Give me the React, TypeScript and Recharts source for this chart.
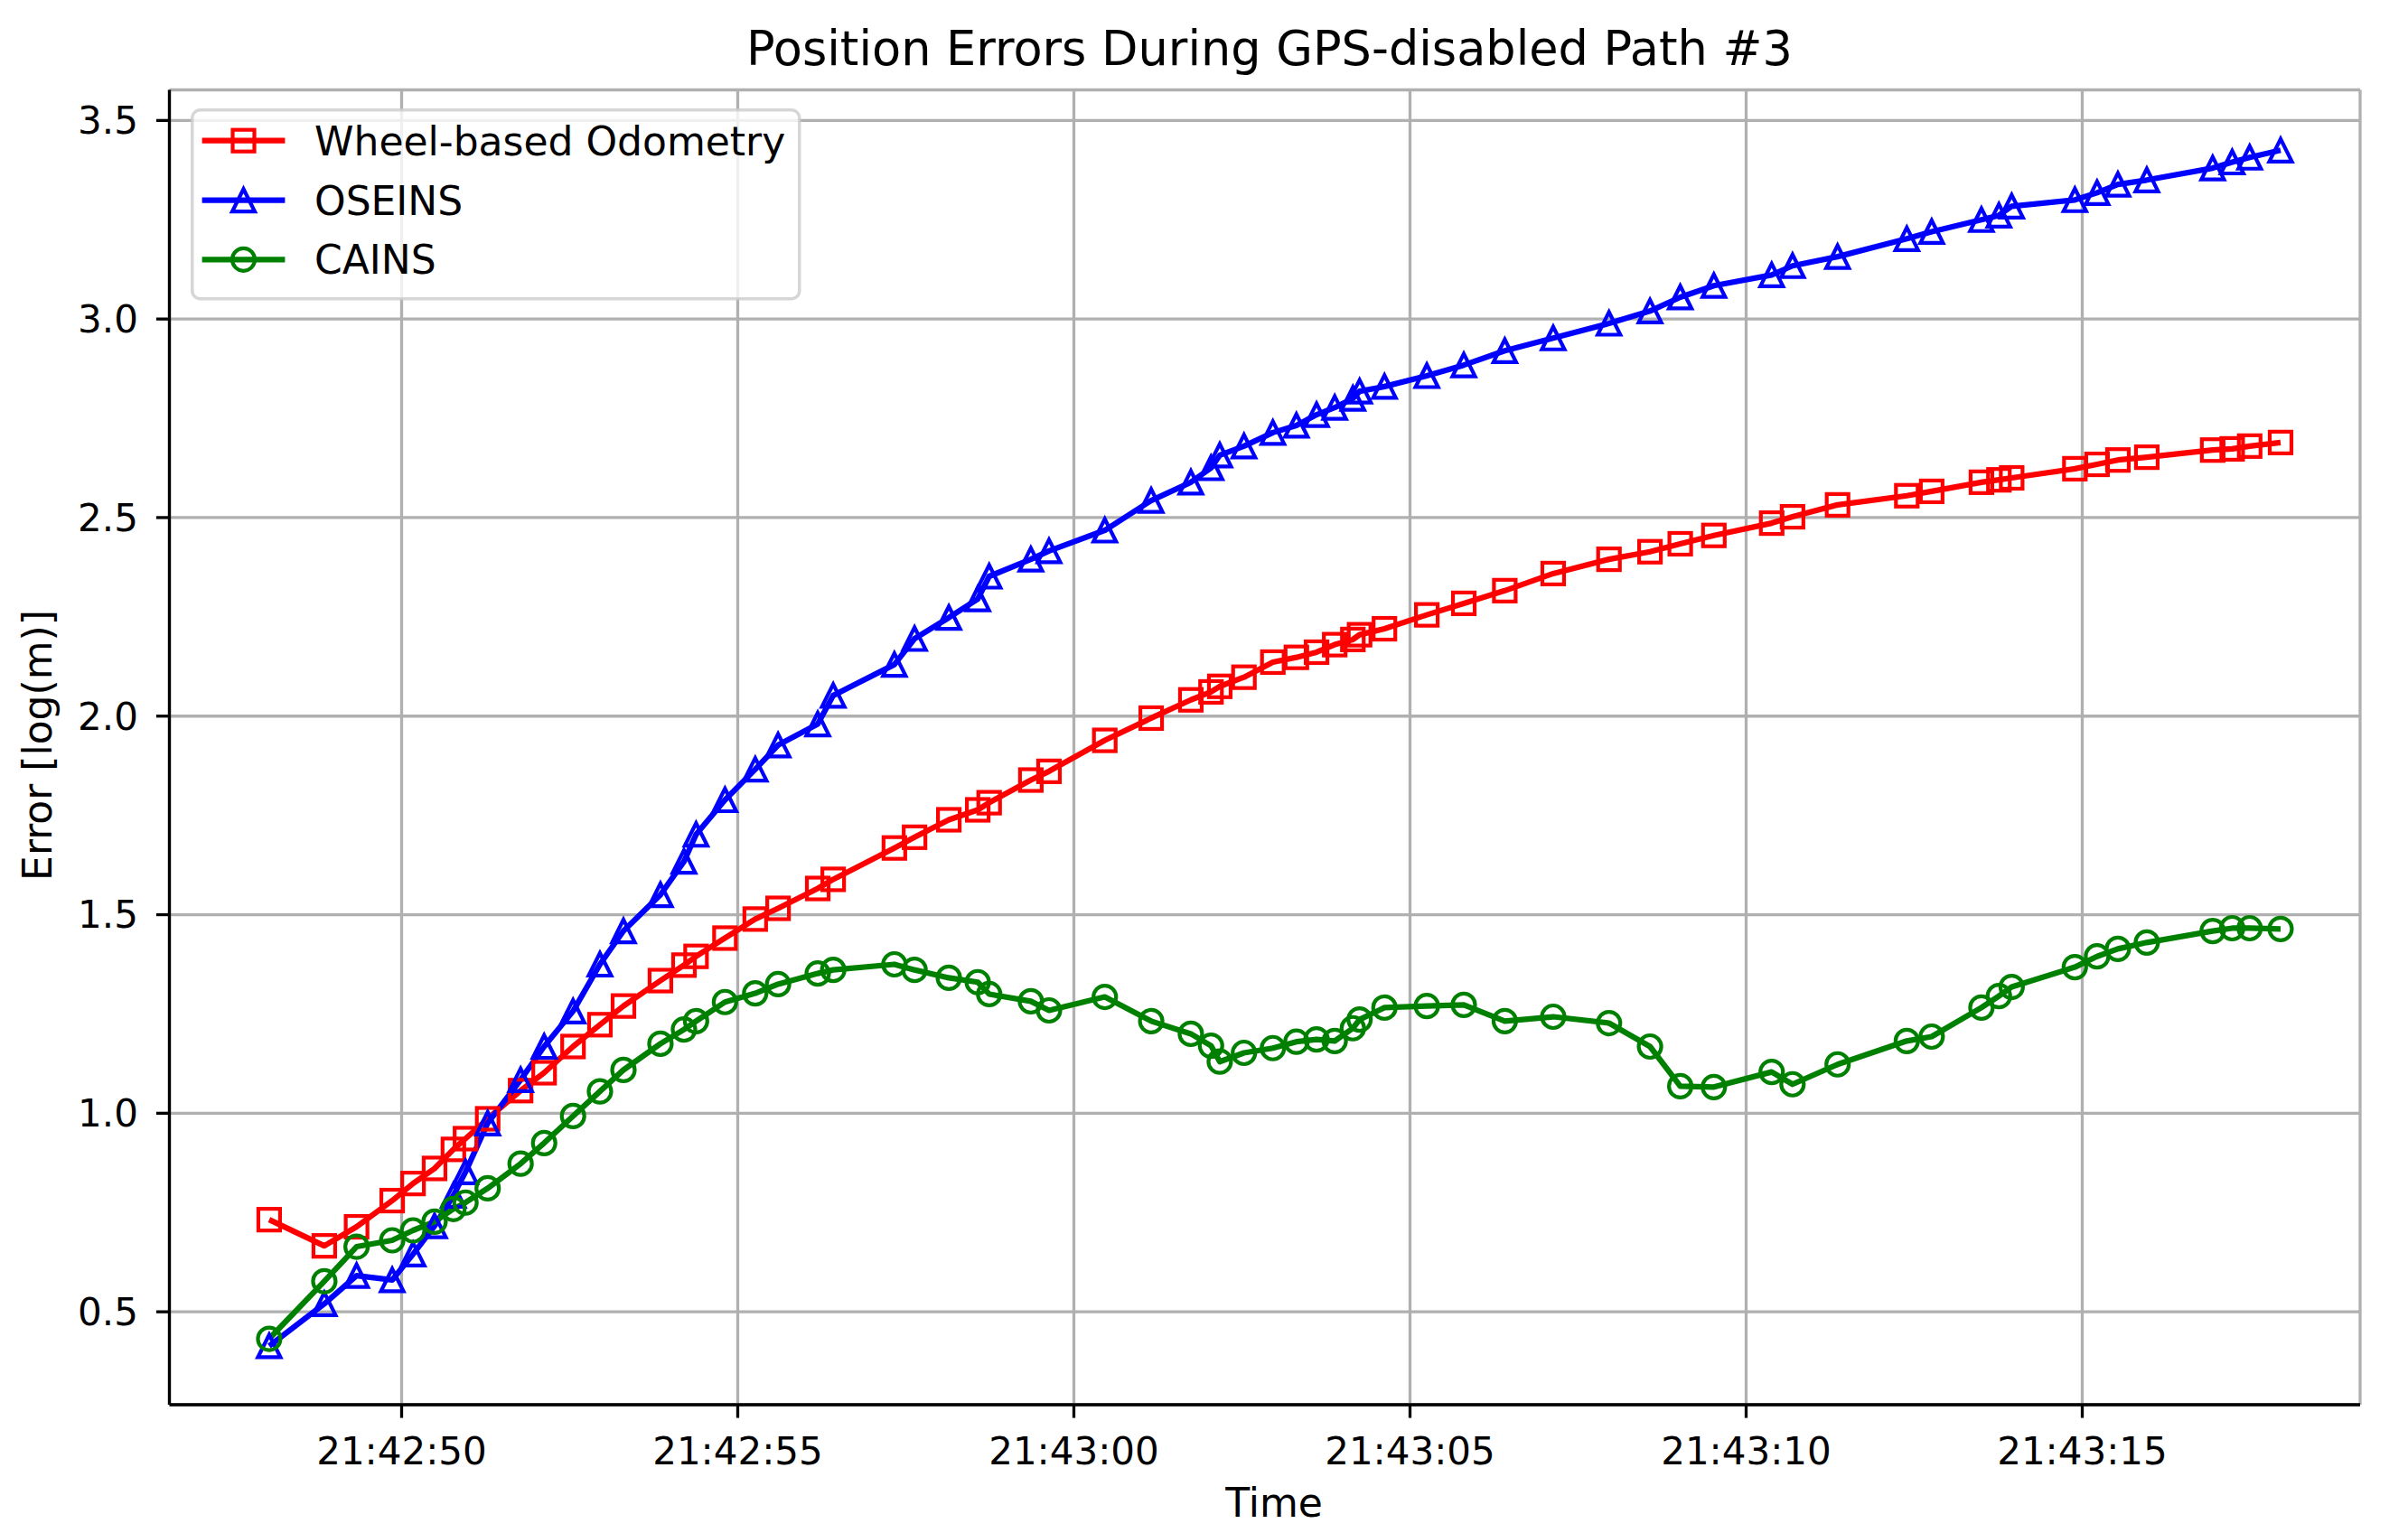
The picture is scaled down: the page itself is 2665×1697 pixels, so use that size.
import React from 'react';
import { LineChart, Line, XAxis, YAxis, CartesianGrid, Legend } from 'recharts';

// seconds after 21:42:00
const TIME = [
  48.03, 48.85, 49.33, 49.86, 50.17, 50.49, 50.77, 50.95, 51.28, 51.77,
  52.12, 52.55, 52.95, 53.3, 53.85, 54.2, 54.38, 54.81, 55.26, 55.6,
  56.19, 56.42, 57.33, 57.63, 58.14, 58.57, 58.74, 59.36, 59.63, 60.46,
  61.15, 61.74, 62.04, 62.17, 62.53, 62.96, 63.31, 63.61, 63.88, 64.15,
  64.25, 64.62, 65.25, 65.8, 66.41, 67.13, 67.96, 68.57, 69.02, 69.52,
  70.38, 70.69, 71.36, 72.39, 72.76, 73.5, 73.76, 73.95, 74.89, 75.22,
  75.53, 75.96, 76.94, 77.23, 77.49, 77.95,
];

const ODOMETRY = [
  0.732, 0.666, 0.714, 0.78, 0.823, 0.861, 0.909, 0.936, 0.986, 1.057,
  1.102, 1.168, 1.223, 1.27, 1.334, 1.373, 1.395, 1.441, 1.489, 1.516,
  1.566, 1.589, 1.668, 1.695, 1.739, 1.764, 1.782, 1.839, 1.861, 1.939,
  1.995, 2.041, 2.061, 2.075, 2.098, 2.136, 2.148, 2.161, 2.18, 2.193,
  2.205, 2.22, 2.255, 2.284, 2.316, 2.359, 2.395, 2.414, 2.434, 2.455,
  2.486, 2.502, 2.532, 2.555, 2.566, 2.589, 2.595, 2.6, 2.623, 2.634,
  2.645, 2.652, 2.67, 2.673, 2.68, 2.689,
];

const OSEINS = [
  0.414, 0.52, 0.591, 0.58, 0.645, 0.716, 0.793, 0.852, 0.975, 1.084,
  1.168, 1.257, 1.375, 1.459, 1.55, 1.634, 1.702, 1.789, 1.866, 1.927,
  1.98, 2.052, 2.13, 2.195, 2.248, 2.295, 2.352, 2.395, 2.416, 2.468,
  2.543, 2.589, 2.625, 2.657, 2.68, 2.714, 2.732, 2.759, 2.777, 2.8,
  2.818, 2.83, 2.857, 2.884, 2.92, 2.952, 2.989, 3.02, 3.055, 3.084,
  3.111, 3.134, 3.157, 3.202, 3.22, 3.25, 3.261, 3.284, 3.3, 3.318,
  3.339, 3.35, 3.38, 3.395, 3.407, 3.425,
];

const CAINS = [
  0.432, 0.577, 0.664, 0.68, 0.705, 0.727, 0.759, 0.775, 0.811, 0.873,
  0.925, 0.993, 1.055, 1.109, 1.175, 1.211, 1.232, 1.28, 1.302, 1.325,
  1.352, 1.361, 1.375, 1.361, 1.341, 1.33, 1.3, 1.282, 1.259, 1.293,
  1.232, 1.2, 1.17, 1.13, 1.152, 1.164, 1.18, 1.186, 1.182, 1.214,
  1.236, 1.266, 1.27, 1.273, 1.232, 1.243, 1.227, 1.168, 1.068, 1.066,
  1.104, 1.073, 1.123, 1.182, 1.193, 1.266, 1.295, 1.318, 1.368, 1.395,
  1.414, 1.43, 1.459, 1.466, 1.466, 1.464,
];

const X_TICKS = [50, 55, 60, 65, 70, 75];
const Y_TICKS = [0.5, 1.0, 1.5, 2.0, 2.5, 3.0, 3.5];

const SERIES = [
  { key: 'odometry', name: 'Wheel-based Odometry', color: '#ff0000', marker: 'square' },
  { key: 'oseins', name: 'OSEINS', color: '#0000ff', marker: 'triangle' },
  { key: 'cains', name: 'CAINS', color: '#008000', marker: 'circle' },
];

const rows = TIME.map((t, i) => ({
  t,
  odometry: ODOMETRY[i],
  oseins: OSEINS[i],
  cains: CAINS[i],
}));

const FONT = '"DejaVu Sans", Verdana, sans-serif';
const FS = 42;
const LABEL_FS = 44;
const X_DOMAIN = [46.546, 79.133];
const Y_DOMAIN = [0.266, 3.577];

const fmtTime = (s: number) => {
  const m = 42 + Math.floor(s / 60);
  const sec = Math.round(s % 60);
  return `21:${String(m).padStart(2, '0')}:${String(sec).padStart(2, '0')}`;
};

const Marker = ({ kind, cx, cy, color }: any) => {
  const sw = 4.2;
  if (kind === 'square') {
    return <rect x={cx - 12} y={cy - 12} width={24} height={24} fill="none" stroke={color} strokeWidth={sw} />;
  }
  if (kind === 'triangle') {
    const h = 12.5;
    return (
      <polygon
        points={`${cx},${cy - h} ${cx - h},${cy + h} ${cx + h},${cy + h}`}
        fill="none"
        stroke={color}
        strokeWidth={sw}
        strokeLinejoin="miter"
      />
    );
  }
  return <circle cx={cx} cy={cy} r={12.5} fill="none" stroke={color} strokeWidth={sw} />;
};

const renderDot = (kind: string, color: string) => (props: any) => {
  const { cx, cy, index } = props;
  if (cx == null || cy == null) return <g key={`d-${index}`} />;
  return (
    <g key={`d-${kind}-${index}`}>
      <Marker kind={kind} cx={cx} cy={cy} color={color} />
    </g>
  );
};

const LegendBox = () => {
  const rowY = [35.7, 101.7, 167.3];
  return (
    <svg width={676} height={213} style={{ display: 'block' }}>
      <rect
        x={1.75}
        y={1.75}
        width={672}
        height={209}
        rx={9}
        fill="#ffffff"
        fillOpacity={0.8}
        stroke="#cccccc"
        strokeOpacity={0.8}
        strokeWidth={3.5}
      />
      {SERIES.map((s, i) => (
        <g key={s.key}>
          <line x1={12.6} x2={104.4} y1={rowY[i]} y2={rowY[i]} stroke={s.color} strokeWidth={6.25} />
          <Marker kind={s.marker} cx={58.5} cy={rowY[i]} color={s.color} />
          <text x={137} y={rowY[i] + 16} fontFamily={FONT} fontSize={LABEL_FS} fill="#000">
            {s.name}
          </text>
        </g>
      ))}
    </svg>
  );
};

const axisTick = { fill: '#000', fontSize: FS, fontFamily: FONT };
const axisLine = { stroke: '#000', strokeWidth: 3.3 };

const App = () => {
  return (
    <div style={{ position: 'absolute', left: 0, top: 0, width: 2665, height: 1697, background: '#fff' }}>
      <LineChart
        width={2665}
        height={1697}
        data={rows}
        margin={{ top: 99.5, right: 53, left: 67.5, bottom: 42 }}
      >
        <CartesianGrid stroke="#b0b0b0" strokeWidth={3.3} />
        <XAxis
          dataKey="t"
          type="number"
          domain={X_DOMAIN}
          ticks={X_TICKS}
          interval={0}
          allowDataOverflow
          tickFormatter={fmtTime}
          height={100}
          tick={axisTick}
          tickSize={14.6}
          tickMargin={22}
          tickLine={axisLine}
          axisLine={axisLine}
        />
        <XAxis
          xAxisId="top"
          orientation="top"
          dataKey="t"
          type="number"
          domain={X_DOMAIN}
          allowDataOverflow
          height={0}
          tick={false}
          tickLine={false}
          axisLine={axisLine}
        />
        <YAxis
          type="number"
          domain={Y_DOMAIN}
          ticks={Y_TICKS}
          interval={0}
          allowDataOverflow
          tickFormatter={(v: number) => v.toFixed(1)}
          width={120}
          tick={axisTick}
          tickSize={14.6}
          tickMargin={20}
          tickLine={axisLine}
          axisLine={axisLine}
        />
        <YAxis
          yAxisId="right"
          orientation="right"
          type="number"
          domain={Y_DOMAIN}
          allowDataOverflow
          width={0}
          tick={false}
          tickLine={false}
          axisLine={axisLine}
        />
        {SERIES.map((s) => (
          <Line
            key={s.key}
            type="linear"
            dataKey={s.key}
            name={s.name}
            stroke={s.color}
            strokeWidth={6.25}
            strokeLinejoin="round"
            dot={renderDot(s.marker, s.color)}
            activeDot={false}
            isAnimationActive={false}
          />
        ))}
        <Legend
          content={() => <LegendBox />}
          layout="vertical"
          align="center"
          verticalAlign="middle"
          wrapperStyle={{ left: 211, top: 120, width: 676, height: 213 }}
        />
      </LineChart>
      <svg
        width={2665}
        height={1697}
        style={{ position: 'absolute', left: 0, top: 0, pointerEvents: 'none' }}
      >
        <text x={1405} y={72} textAnchor="middle" fontFamily={FONT} fontSize={52.5} fill="#000">
          Position Errors During GPS-disabled Path #3
        </text>
        <text x={1410} y={1679} textAnchor="middle" fontFamily={FONT} fontSize={LABEL_FS} fill="#000">
          Time
        </text>
        <text
          x={0}
          y={0}
          transform="translate(57 825) rotate(-90)"
          textAnchor="middle"
          fontFamily={FONT}
          fontSize={LABEL_FS}
          fill="#000"
        >
          Error [log(m)]
        </text>
      </svg>
    </div>
  );
};

export default App;
